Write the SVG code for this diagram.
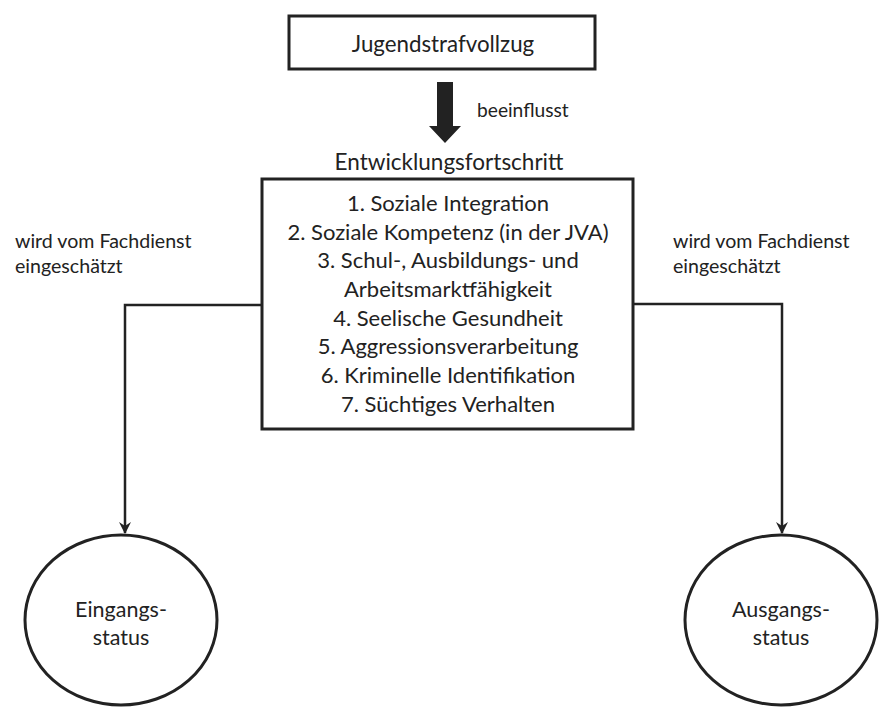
<svg xmlns="http://www.w3.org/2000/svg" width="881" height="707" viewBox="0 0 881 707">
<defs>
<style>
.t{font-family:Lato,"Open Sans","Liberation Sans",sans-serif;fill:#222;}
.box{fill:#fff;stroke:#222;stroke-width:3;}
.con{fill:none;stroke:#222;stroke-width:2.5;}
</style>
<marker id="ah" viewBox="0 0 12 12" refX="11" refY="6" markerWidth="12" markerHeight="12" markerUnits="userSpaceOnUse" orient="auto">
<path d="M0,0 L12,6 L0,12 L4,6 Z" fill="#222"/>
</marker>
</defs>
<rect width="881" height="707" fill="#fff"/>
<g id="connectors">
<polygon points="437,82 453,82 453,126 461,126 445,143 429,126 437,126" fill="#222"/>
<path class="con" d="M262,305 H125 V533" marker-end="url(#ah)"/>
<path class="con" d="M633,304 H782 V533" marker-end="url(#ah)"/>
</g>
<g id="jugendstrafvollzug">
<rect class="box" x="289" y="16" width="306" height="53"/>
<text class="t" x="443" y="52" font-size="22.3" text-anchor="middle">Jugendstrafvollzug</text>
</g>
<text class="t" x="477" y="117" font-size="19.2">beeinflusst</text>
<text class="t" x="449" y="170" font-size="22.5" text-anchor="middle">Entwicklungsfortschritt</text>
<g id="entwicklung">
<rect class="box" x="262" y="179" width="371" height="250"/>
<g class="t" font-size="22" text-anchor="middle">
<text x="448" y="211">1. Soziale Integration</text>
<text x="448" y="240">2. Soziale Kompetenz (in der JVA)</text>
<text x="448" y="268">3. Schul-, Ausbildungs- und</text>
<text x="448" y="297">Arbeitsmarktfähigkeit</text>
<text x="448" y="326">4. Seelische Gesundheit</text>
<text x="448" y="354">5. Aggressionsverarbeitung</text>
<text x="448" y="383">6. Kriminelle Identifikation</text>
<text x="448" y="412">7. Süchtiges Verhalten</text>
</g>
</g>
<g class="t" font-size="19.6">
<text x="15" y="248">wird vom Fachdienst</text>
<text x="15" y="273">eingeschätzt</text>
<text x="673" y="248">wird vom Fachdienst</text>
<text x="673" y="273">eingeschätzt</text>
</g>
<g id="eingang">
<ellipse class="box" cx="121" cy="620" rx="96" ry="85" stroke-width="2.5"/>
<text class="t" x="121" y="617" font-size="21.5" text-anchor="middle">Eingangs-</text>
<text class="t" x="121" y="645" font-size="21.5" text-anchor="middle">status</text>
</g>
<g id="ausgang">
<ellipse class="box" cx="781" cy="620" rx="96" ry="85" stroke-width="2.5"/>
<text class="t" x="781" y="617" font-size="21.5" text-anchor="middle">Ausgangs-</text>
<text class="t" x="781" y="645" font-size="21.5" text-anchor="middle">status</text>
</g>
</svg>
